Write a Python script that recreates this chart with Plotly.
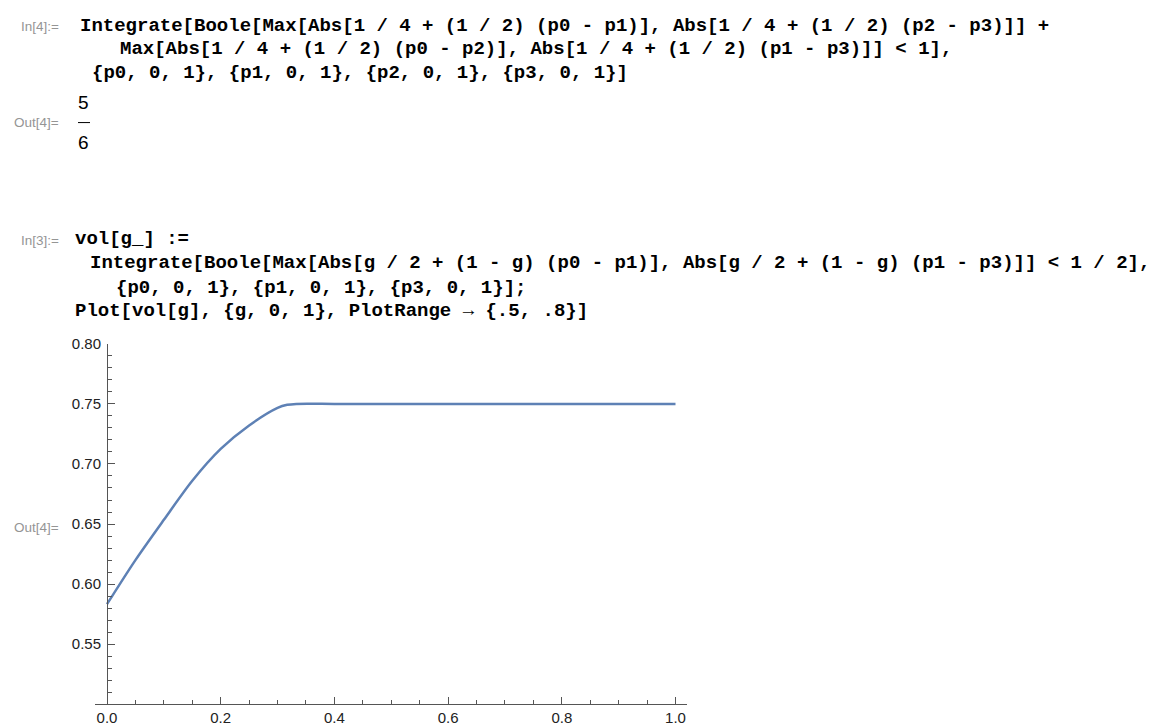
import plotly.graph_objects as go

W, H = 1153, 727

# data
g_vals = [0.0, 0.05, 0.1, 0.15, 0.2, 0.25, 0.3, 0.317, 0.333, 0.4, 0.5, 0.6, 0.7, 0.8, 0.9, 1.0]
vol_vals = [0.5833, 0.620, 0.6535, 0.686, 0.7125, 0.732, 0.7466, 0.7492, 0.750,
            0.750, 0.750, 0.750, 0.750, 0.750, 0.750, 0.750]
y_tick_vals = [0.55, 0.60, 0.65, 0.70, 0.75, 0.80]
y_tick_text = ["0.55", "0.60", "0.65", "0.70", "0.75", "0.80"]
x_tick_vals = [0.0, 0.2, 0.4, 0.6, 0.8, 1.0]
x_tick_text = ["0.0", "0.2", "0.4", "0.6", "0.8", "1.0"]

code_lines = [
    ("Integrate[Boole[Max[Abs[1 / 4 + (1 / 2) (p0 - p1)], Abs[1 / 4 + (1 / 2) (p2 - p3)]] +", 78, 17),
    ("Max[Abs[1 / 4 + (1 / 2) (p0 - p2)], Abs[1 / 4 + (1 / 2) (p1 - p3)]] < 1],", 118, 41),
    ("{p0, 0, 1}, {p1, 0, 1}, {p2, 0, 1}, {p3, 0, 1}]", 90, 65),
    ("vol[g_] :=", 73, 233),
    ("Integrate[Boole[Max[Abs[g / 2 + (1 - g) (p0 - p1)], Abs[g / 2 + (1 - g) (p1 - p3)]] < 1 / 2],", 88, 257),
    ("{p0, 0, 1}, {p1, 0, 1}, {p3, 0, 1}];", 114, 282),
    ("Plot[vol[g], {g, 0, 1}, PlotRange → {.5, .8}]", 73, 306),
]
labels = [("In[4]:=", 61, 18), ("Out[4]=", 61, 115), ("In[3]:=", 61, 234), ("Out[4]=", 61, 525)]

x0px, x1px = 107, 675.5   # pixel of g=0 and g=1
xl, xr = 95, 687          # axis line extent
ytop, ybot = 339, 704

def px2x(p):
    return (p - x0px) / (x1px - x0px)

fig = go.Figure()
fig.add_trace(go.Scatter(x=g_vals, y=vol_vals, mode="lines",
                         line=dict(color="#5E81B5", width=2.5, shape="spline", smoothing=0.8),
                         hoverinfo="skip", showlegend=False))

axis_col = "#555555"
fig.update_layout(
    width=W, height=H, margin=dict(l=0, r=0, t=0, b=0),
    paper_bgcolor="white", plot_bgcolor="white", showlegend=False,
    xaxis=dict(domain=[xl / W, xr / W], range=[px2x(xl), px2x(xr)],
               showgrid=False, zeroline=False, showline=True, linecolor=axis_col, linewidth=1,
               ticks="inside", ticklen=7, tickwidth=1, tickcolor=axis_col,
               tickvals=x_tick_vals, ticktext=x_tick_text,
               tickfont=dict(family="Liberation Sans", size=15, color="#222"),
               minor=dict(tickmode="linear", tick0=0, dtick=0.05, ticks="inside", ticklen=4,
                          tickwidth=1, tickcolor=axis_col, showgrid=False),
               fixedrange=True),
    yaxis=dict(domain=[1 - ybot / H, 1 - ytop / H], range=[0.5, 0.8],
               anchor="free", position=x0px / W,
               showgrid=False, zeroline=False, showline=True, linecolor=axis_col, linewidth=1,
               ticks="inside", ticklen=7, tickwidth=1, tickcolor=axis_col,
               tickvals=y_tick_vals, ticktext=y_tick_text, ticklabelstandoff=3,
               tickfont=dict(family="Liberation Sans", size=15, color="#222"),
               minor=dict(tickmode="linear", tick0=0.5, dtick=0.01, ticks="inside", ticklen=4,
                          tickwidth=1, tickcolor=axis_col, showgrid=False),
               fixedrange=True),
)

for txt, xp, yp in code_lines:
    fig.add_annotation(text="<b>%s</b>" % txt, x=xp / W, y=1 - yp / H, xref="paper", yref="paper",
                       xanchor="left", yanchor="middle", showarrow=False,
                       font=dict(family="Liberation Mono", size=19, color="#000"))
for txt, xp, yp in labels:
    fig.add_annotation(text=txt, x=xp / W, y=1 - yp / H, xref="paper", yref="paper",
                       xanchor="right", yanchor="middle", showarrow=False,
                       font=dict(family="Liberation Sans", size=13.5, color="#959595"))

# 5/6 fraction
fig.add_annotation(text="5", x=84 / W, y=1 - 95 / H, xref="paper", yref="paper", showarrow=False,
                   xanchor="center", yanchor="middle", font=dict(family="Liberation Sans", size=19, color="#000"))
fig.add_annotation(text="6", x=84 / W, y=1 - 135 / H, xref="paper", yref="paper", showarrow=False,
                   xanchor="center", yanchor="middle", font=dict(family="Liberation Sans", size=19, color="#000"))
fig.add_shape(type="line", xref="paper", yref="paper", x0=78 / W, x1=90 / W,
              y0=1 - 115 / H, y1=1 - 115 / H, line=dict(color="#000", width=1))

fig.write_html("out.html", config={"displayModeBar": False})
